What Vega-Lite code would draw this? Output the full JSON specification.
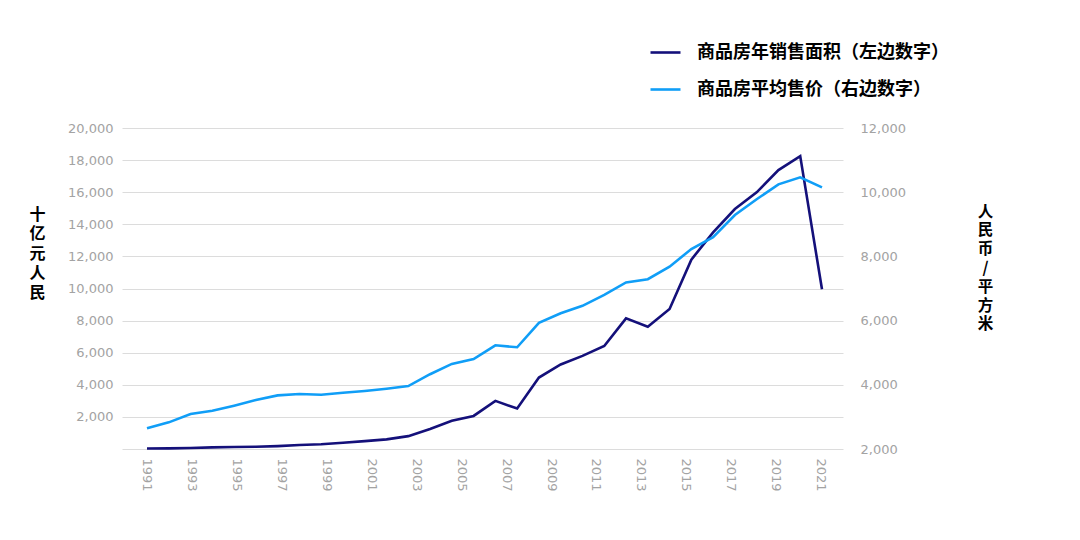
{
  "$schema": "https://vega.github.io/schema/vega-lite/v6.json",
  "autosize": "none",
  "width": 721,
  "height": 321,
  "padding": {"left": 122, "top": 128, "right": 237, "bottom": 91},
  "background": "white",
  "config": {
    "view": {"stroke": null},
    "font": "DejaVu Sans"
  },
  "datasets": {
    "area": [
      {"year": 1991, "value": 30}, {"year": 1992, "value": 40}, {"year": 1993, "value": 60},
      {"year": 1994, "value": 100}, {"year": 1995, "value": 120}, {"year": 1996, "value": 140},
      {"year": 1997, "value": 180}, {"year": 1998, "value": 250}, {"year": 1999, "value": 300},
      {"year": 2000, "value": 390}, {"year": 2001, "value": 490}, {"year": 2002, "value": 600},
      {"year": 2003, "value": 800}, {"year": 2004, "value": 1250}, {"year": 2005, "value": 1760},
      {"year": 2006, "value": 2060}, {"year": 2007, "value": 3000}, {"year": 2008, "value": 2520},
      {"year": 2009, "value": 4450}, {"year": 2010, "value": 5270}, {"year": 2011, "value": 5800},
      {"year": 2012, "value": 6420}, {"year": 2013, "value": 8140}, {"year": 2014, "value": 7620},
      {"year": 2015, "value": 8720}, {"year": 2016, "value": 11800}, {"year": 2017, "value": 13500},
      {"year": 2018, "value": 14950}, {"year": 2019, "value": 15990}, {"year": 2020, "value": 17380},
      {"year": 2021, "value": 18250}, {"year": 2022, "value": 9950}
    ],
    "price": [
      {"year": 1991, "value": 2645}, {"year": 1992, "value": 2830}, {"year": 1993, "value": 3090},
      {"year": 1994, "value": 3190}, {"year": 1995, "value": 3350}, {"year": 1996, "value": 3525},
      {"year": 1997, "value": 3670}, {"year": 1998, "value": 3715}, {"year": 1999, "value": 3690},
      {"year": 2000, "value": 3750}, {"year": 2001, "value": 3805}, {"year": 2002, "value": 3875},
      {"year": 2003, "value": 3960}, {"year": 2004, "value": 4330}, {"year": 2005, "value": 4650},
      {"year": 2006, "value": 4800}, {"year": 2007, "value": 5230}, {"year": 2008, "value": 5170},
      {"year": 2009, "value": 5930}, {"year": 2010, "value": 6230}, {"year": 2011, "value": 6460},
      {"year": 2012, "value": 6800}, {"year": 2013, "value": 7190}, {"year": 2014, "value": 7290},
      {"year": 2015, "value": 7680}, {"year": 2016, "value": 8230}, {"year": 2017, "value": 8600},
      {"year": 2018, "value": 9290}, {"year": 2019, "value": 9780}, {"year": 2020, "value": 10245},
      {"year": 2021, "value": 10465}, {"year": 2022, "value": 10150}
    ],
    "labels": [
      {"year": 1991}, {"year": 1993}, {"year": 1995}, {"year": 1997}, {"year": 1999},
      {"year": 2001}, {"year": 2003}, {"year": 2005}, {"year": 2007}, {"year": 2009},
      {"year": 2011}, {"year": 2013}, {"year": 2015}, {"year": 2017}, {"year": 2019}, {"year": 2021}
    ]
  },
  "layer": [
    {
      "data": {"name": "area"},
      "mark": {"type": "line", "strokeWidth": 2.6},
      "encoding": {
        "x": {"field": "year", "type": "quantitative", "scale": {"domain": [1989.852, 2022.965], "nice": false, "zero": false}, "axis": null},
        "y": {
          "field": "value", "type": "quantitative",
          "scale": {"domain": [0, 20000], "nice": false},
          "axis": {
            "orient": "left", "values": [0, 2000, 4000, 6000, 8000, 10000, 12000, 14000, 16000, 18000, 20000],
            "labelExpr": "datum.value == 0 ? '' : format(datum.value, ',')",
            "domain": false, "ticks": false, "grid": true, "gridColor": "#dcdcdc", "gridWidth": 1,
            "labelColor": "#a3a3a3", "labelFontSize": 13, "labelPadding": 9, "labelFont": "DejaVu Sans",
            "title": ["十", "亿", "元", "人", "民"], "titleAngle": 0, "titleFont": "Noto Sans CJK SC",
            "titleFontSize": 16, "titleFontWeight": "bold", "titleColor": "#000000", "titleLineHeight": 19.5,
            "titleX": -85, "titleY": 78, "titleAlign": "center", "titleBaseline": "top"
          }
        },
        "color": {
          "datum": "商品房年销售面积（左边数字）",
          "type": "nominal",
          "scale": {"domain": ["商品房年销售面积（左边数字）", "商品房平均售价（右边数字）"], "range": ["#14107a", "#109ef7"]},
          "legend": {
            "orient": "none", "legendX": 527, "legendY": -92, "direction": "vertical", "title": null,
            "symbolType": "stroke", "symbolSize": 900, "symbolStrokeWidth": 2.6,
            "labelFont": "Noto Sans CJK SC", "labelFontSize": 18, "labelFontWeight": "bold", "labelColor": "#000000",
            "labelOffset": 15, "rowPadding": 11, "labelLimit": 400
          }
        }
      }
    },
    {
      "data": {"name": "price"},
      "mark": {"type": "line", "strokeWidth": 2.6},
      "encoding": {
        "x": {"field": "year", "type": "quantitative", "scale": {"domain": [1989.852, 2022.965], "nice": false, "zero": false}, "axis": null},
        "y": {
          "field": "value", "type": "quantitative",
          "scale": {"domain": [2000, 12000], "nice": false, "zero": false},
          "axis": {
            "orient": "right", "values": [2000, 4000, 6000, 8000, 10000, 12000],
            "labelExpr": "format(datum.value, ',')",
            "domain": false, "ticks": false, "grid": false,
            "labelColor": "#a3a3a3", "labelFontSize": 13, "labelPadding": 17, "labelFont": "DejaVu Sans",
            "title": ["人", "民", "币", "/", "平", "方", "米"], "titleAngle": 0, "titleFont": "Noto Sans CJK SC",
            "titleFontSize": 15.5, "titleFontWeight": "bold", "titleColor": "#000000", "titleLineHeight": 18.8,
            "titleX": 142, "titleY": 76, "titleAlign": "center", "titleBaseline": "top"
          }
        },
        "color": {"datum": "商品房平均售价（右边数字）", "type": "nominal"}
      }
    },
    {
      "data": {"name": "labels"},
      "mark": {"type": "rule", "opacity": 0},
      "encoding": {
        "x": {
          "field": "year", "type": "quantitative",
          "scale": {"domain": [1989.933, 2021.978], "nice": false, "zero": false},
          "axis": {
            "values": [1991, 1993, 1995, 1997, 1999, 2001, 2003, 2005, 2007, 2009, 2011, 2013, 2015, 2017, 2019, 2021],
            "format": "d", "labelAngle": 90, "domain": false, "ticks": false, "grid": false,
            "labelColor": "#a3a3a3", "labelFontSize": 13, "labelPadding": 9, "labelFont": "DejaVu Sans",
            "title": null
          }
        }
      }
    }
  ],
  "resolve": {
    "scale": {"x": "independent", "y": "independent"},
    "axis": {"x": "independent", "y": "independent"}
  }
}
